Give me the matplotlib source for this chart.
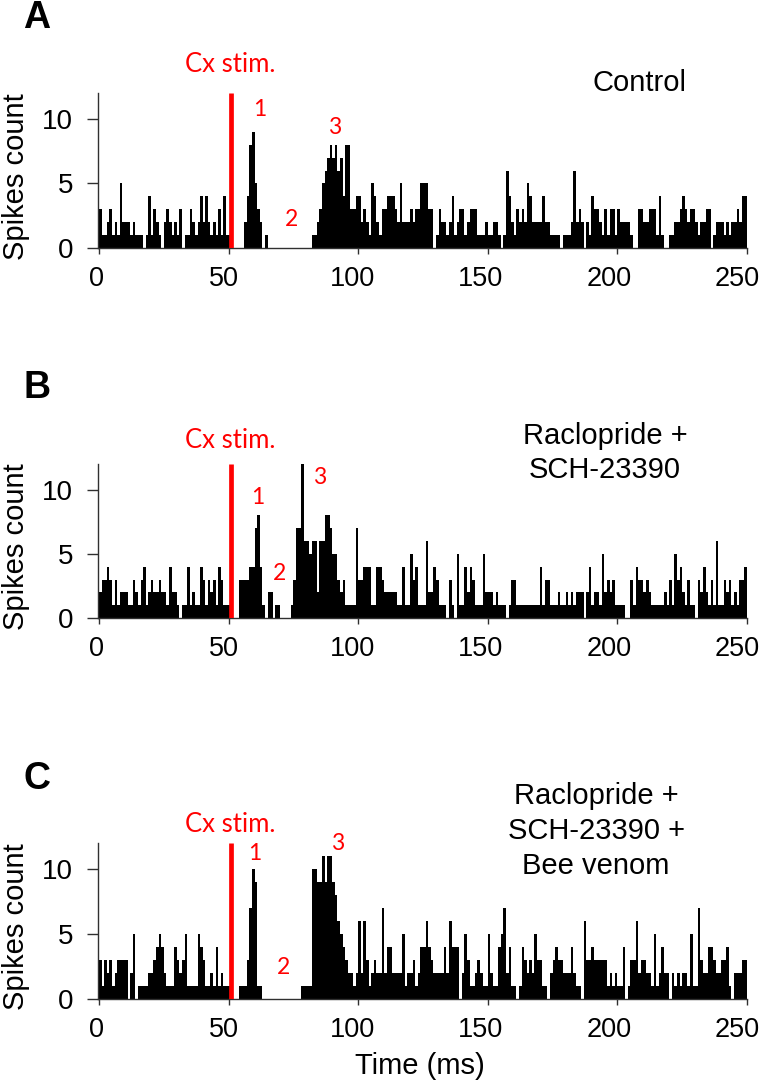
import matplotlib.pyplot as plt
import matplotlib.transforms as mtransforms
import numpy as np

plt.rcParams['font.family'] = ['Liberation Sans', 'DejaVu Sans']

# 1 ms bins, 0-250 ms
time_ms = np.arange(250)

control = [
    3, 1, 1, 2, 3, 1, 2, 1, 5, 2,
    2, 2, 1, 2, 1, 1, 1, 0, 1, 4,
    1, 3, 2, 1, 0, 2, 3, 2, 1, 2,
    1, 3, 0, 1, 1, 3, 2, 1, 2, 4,
    2, 4, 2, 1, 2, 1, 3, 1, 4, 1,
    1, 0, 0, 0, 0, 0, 2, 4, 8, 9,
    5, 3, 2, 0, 1, 0, 0, 0, 0, 0,
    0, 0, 0, 0, 0, 0, 0, 0, 0, 0,
    0, 0, 1, 1, 2, 3, 5, 6, 7, 8,
    7, 8, 6, 7, 4, 8, 8, 3, 3, 4,
    4, 2, 3, 2, 1, 5, 4, 2, 1, 3,
    3, 4, 4, 4, 3, 2, 5, 2, 2, 2,
    3, 2, 3, 3, 5, 5, 5, 3, 3, 0,
    1, 3, 2, 2, 1, 2, 4, 1, 2, 3,
    3, 1, 2, 3, 3, 3, 1, 1, 1, 2,
    1, 1, 2, 2, 1, 0, 1, 6, 4, 2,
    1, 3, 2, 3, 2, 5, 4, 2, 2, 2,
    2, 4, 2, 2, 1, 1, 1, 1, 0, 1,
    1, 1, 2, 6, 2, 3, 2, 0, 2, 1,
    4, 3, 3, 2, 1, 3, 1, 3, 3, 1,
    3, 2, 2, 2, 2, 1, 0, 0, 3, 3,
    2, 2, 3, 3, 3, 1, 4, 1, 0, 0,
    1, 1, 2, 2, 3, 4, 3, 2, 3, 3,
    2, 1, 2, 2, 3, 3, 0, 1, 2, 2,
    2, 1, 2, 1, 2, 2, 3, 2, 4, 4,
]

raclopride = [
    2, 3, 3, 4, 3, 1, 3, 1, 2, 2,
    2, 1, 1, 3, 2, 1, 3, 4, 1, 2,
    3, 2, 2, 3, 2, 2, 1, 4, 2, 2,
    1, 0, 1, 1, 4, 1, 2, 1, 1, 4,
    3, 1, 3, 2, 3, 1, 4, 3, 1, 1,
    1, 0, 0, 0, 3, 3, 3, 3, 4, 4,
    7, 8, 4, 1, 0, 2, 2, 0, 1, 1,
    0, 0, 0, 0, 1, 3, 7, 7, 12, 6,
    6, 5, 6, 6, 2, 6, 6, 8, 8, 7,
    5, 5, 3, 2, 3, 1, 1, 1, 1, 7,
    3, 3, 4, 4, 4, 1, 1, 4, 4, 3,
    2, 2, 2, 2, 2, 1, 1, 4, 1, 1,
    5, 3, 4, 1, 1, 1, 6, 2, 2, 4,
    3, 1, 1, 1, 0, 3, 1, 0, 5, 1,
    1, 4, 2, 4, 3, 1, 1, 1, 5, 2,
    2, 2, 1, 2, 1, 1, 1, 0, 1, 3,
    3, 1, 1, 1, 1, 1, 1, 1, 1, 1,
    4, 1, 3, 3, 1, 1, 1, 2, 1, 1,
    2, 1, 2, 1, 2, 2, 2, 0, 2, 4,
    1, 2, 2, 1, 5, 2, 3, 2, 3, 1,
    1, 1, 1, 0, 0, 3, 1, 4, 3, 3,
    2, 3, 2, 1, 1, 1, 1, 1, 2, 1,
    3, 1, 5, 3, 4, 2, 1, 3, 1, 1,
    0, 3, 2, 4, 2, 1, 3, 1, 6, 1,
    1, 3, 2, 3, 1, 2, 1, 3, 3, 4,
]

bee_venom = [
    3, 1, 3, 2, 3, 1, 2, 3, 3, 3,
    3, 0, 2, 5, 0, 1, 1, 1, 1, 2,
    2, 3, 4, 5, 4, 2, 1, 1, 1, 4,
    3, 2, 3, 5, 1, 1, 1, 1, 5, 4,
    3, 1, 1, 2, 1, 4, 1, 2, 1, 1,
    1, 0, 0, 0, 1, 1, 1, 3, 7, 10,
    9, 1, 1, 0, 0, 0, 0, 0, 0, 0,
    0, 0, 0, 0, 0, 0, 0, 0, 1, 1,
    1, 1, 10, 10, 9, 9, 11, 9, 11, 11,
    9, 8, 6, 5, 4, 3, 2, 2, 1, 2,
    6, 2, 6, 3, 1, 2, 3, 2, 2, 7,
    2, 4, 4, 2, 2, 2, 2, 5, 1, 2,
    2, 3, 1, 2, 4, 4, 6, 4, 3, 2,
    2, 2, 2, 4, 2, 6, 4, 4, 4, 0,
    2, 5, 3, 1, 1, 2, 3, 2, 1, 1,
    5, 2, 1, 1, 4, 5, 7, 2, 4, 1,
    1, 0, 1, 4, 3, 2, 3, 2, 5, 3,
    3, 1, 1, 0, 2, 3, 4, 3, 3, 2,
    2, 2, 4, 2, 1, 1, 0, 6, 3, 3,
    4, 3, 3, 3, 3, 3, 1, 2, 1, 2,
    1, 1, 4, 0, 1, 3, 3, 6, 2, 3,
    3, 2, 2, 1, 5, 1, 2, 4, 2, 2,
    0, 2, 1, 2, 1, 2, 2, 1, 5, 1,
    1, 7, 3, 2, 2, 4, 4, 3, 2, 2,
    3, 3, 4, 1, 0, 2, 2, 2, 3, 3,
]

stim_time = 51
panel_letters = ['A', 'B', 'C']
conditions = ['Control', 'Raclopride +\nSCH-23390', 'Raclopride +\nSCH-23390 +\nBee venom']
x_ticks = [0, 50, 100, 150, 200, 250]
y_ticks = [0, 5, 10]
series = [control, raclopride, bee_venom]

W, H = 768, 1087
fig = plt.figure(figsize=(W / 100, H / 100), dpi=100)


def put(px, py, s, **kw):
    fig.text(px / W, 1 - py / H, s, **kw)


# pixel layout of each panel: axes top, axes bottom, letter y, condition x/y, red labels
tops = [93, 464, 843]
bottoms = [248, 618, 999]
letter_y = [18, 388, 779]
cond_xy = [(640, 83), (605, 453), (596, 831)]
cx_y = [65, 440, 825]
num_xy = [
    [(260, 110), (292, 220), (335, 127)],
    [(258, 498), (280, 573), (320, 478)],
    [(255, 853), (284, 967), (338, 843)],
]
left, right = 98, 747
spine_col = '#303030'
red_font = ['Lato', 'DejaVu Sans']

for i in range(3):
    top, bot = tops[i], bottoms[i]
    ax = fig.add_axes([left / W, 1 - bot / H, (right - left) / W, (bot - top) / H])
    ax.bar(time_ms, series[i], width=1, align='edge', color='black', linewidth=0)
    ax.plot([stim_time, stim_time], [0, 12], color='#ff0000', lw=3.4,
            solid_capstyle='butt', zorder=3)
    ax.set_xlim(-0.4, 250)
    ax.set_ylim(0, 12)
    ax.set_xticks(x_ticks)
    ax.set_yticks(y_ticks)
    for s in ['top', 'right']:
        ax.spines[s].set_visible(False)
    for s in ['left', 'bottom']:
        ax.spines[s].set_color(spine_col)
        ax.spines[s].set_linewidth(1.0)
    ax.tick_params(axis='x', length=4, width=1, color=spine_col, pad=9, labelsize=19.5)
    ax.tick_params(axis='y', length=8, width=1, color=spine_col, pad=10, labelsize=20)
    # the original's x labels drift slightly left of their ticks
    for val, lab in zip(x_ticks, ax.get_xticklabels()):
        dx = -(3 + 0.026 * val) / 100
        lab.set_transform(lab.get_transform() +
                          mtransforms.ScaledTranslation(dx, 0, fig.dpi_scale_trans))

    put(16, (top + bot) / 2 + 6, 'Spikes count', rotation=90, ha='center', va='center',
        fontsize=21)
    put(37, letter_y[i], panel_letters[i], ha='center', va='center', fontsize=27,
        fontweight='bold')
    put(cond_xy[i][0], cond_xy[i][1], conditions[i], ha='center', va='center',
        fontsize=21, linespacing=1.3)

    put(230, cx_y[i], 'Cx stim.', ha='center', va='center', fontsize=18.5,
        color='#ff0000', family=red_font)
    for label, (px, py) in zip(['1', '2', '3'], num_xy[i]):
        put(px, py, label, ha='center', va='center', fontsize=16.5, color='#ff0000',
            family=red_font)

put(420, 1066, 'Time (ms)', ha='center', va='center', fontsize=21)

fig.savefig('out.png', dpi=100)
